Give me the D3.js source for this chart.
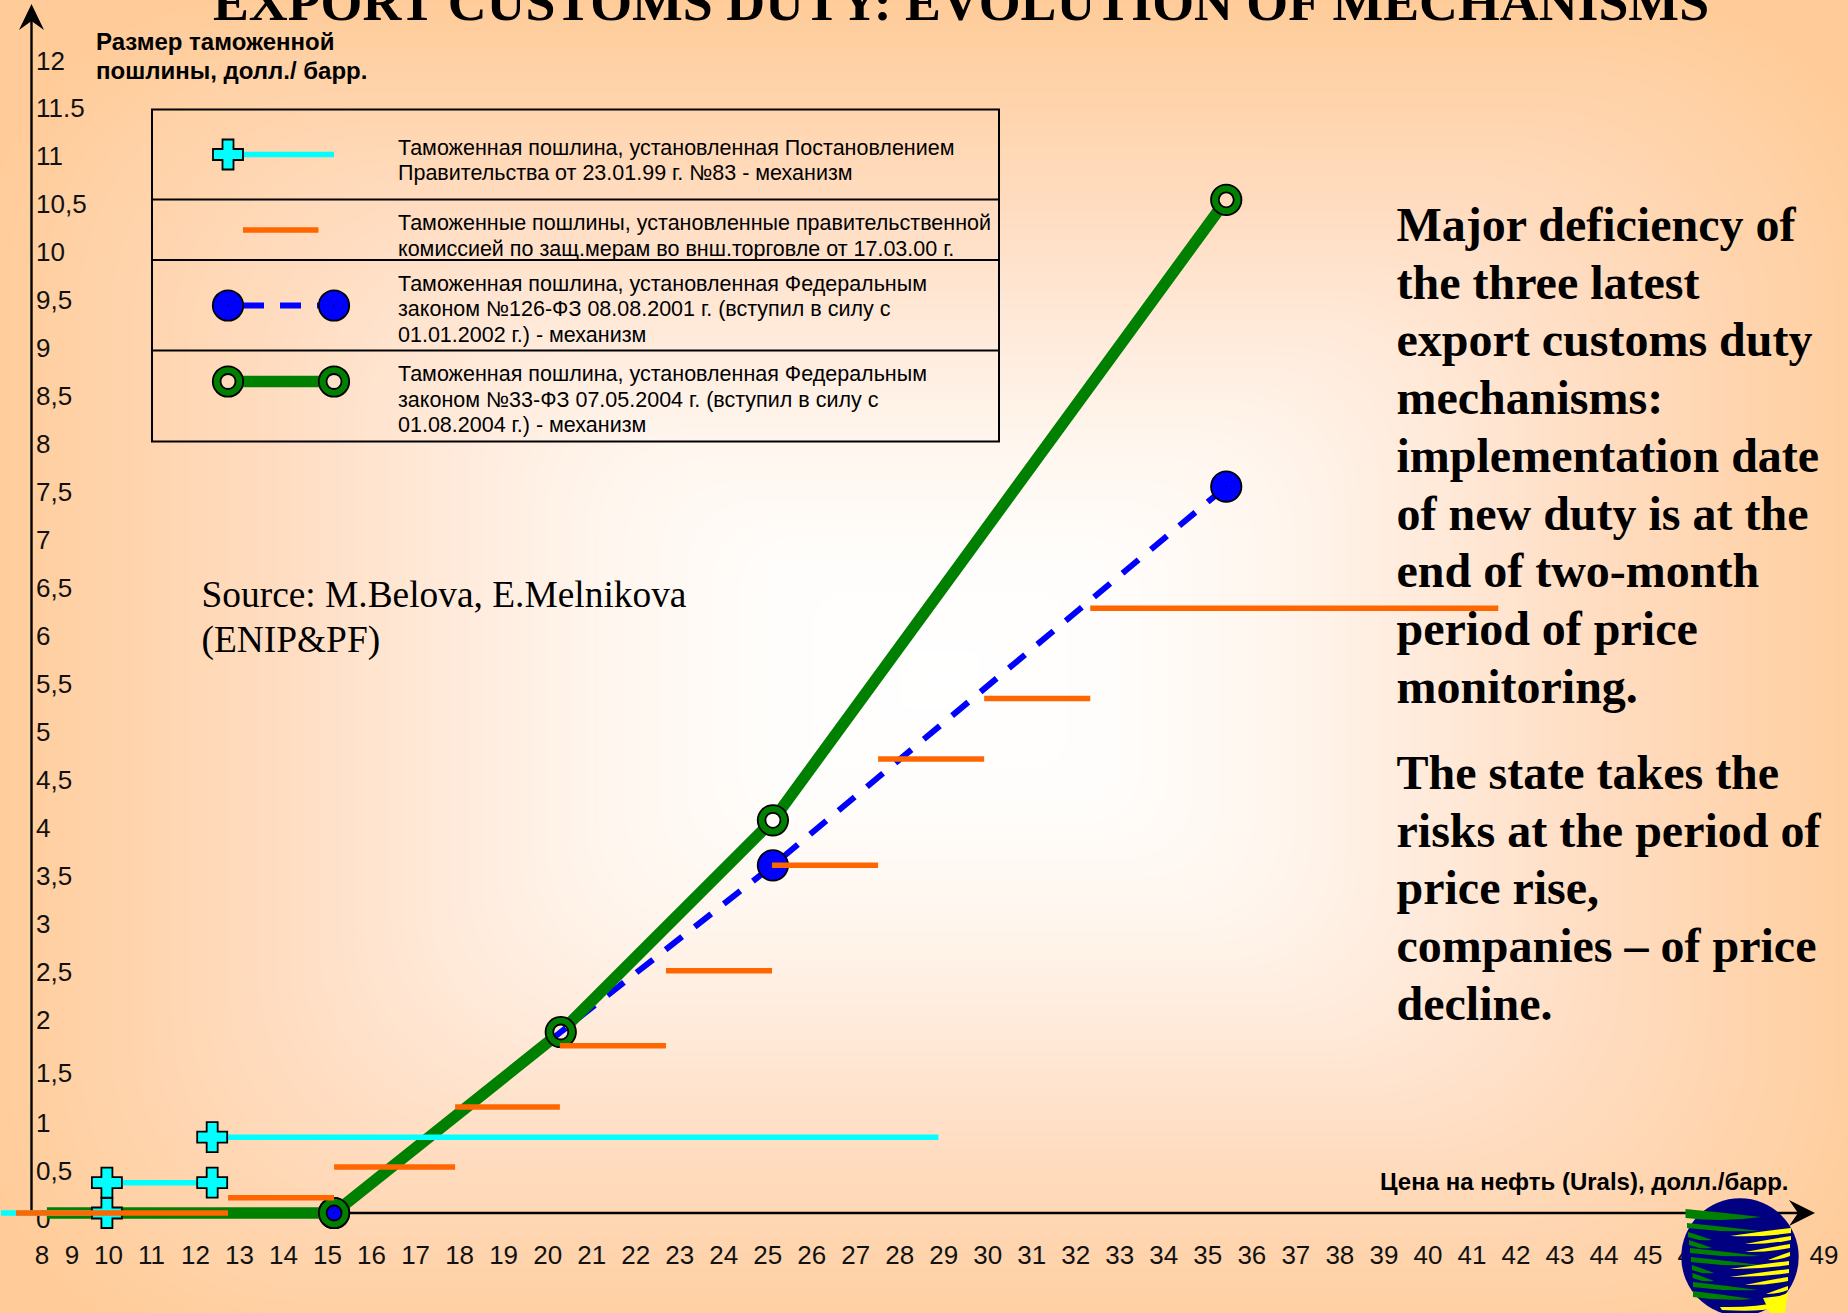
<!DOCTYPE html>
<html><head><meta charset="utf-8">
<script src="https://cdn.jsdelivr.net/npm/d3@7"></script>
<style>html,body{margin:0;padding:0;background:#FFCC99;overflow:hidden}svg{display:block}</style>
</head><body><svg id="chart" width="1848" height="1313"></svg>
<script>
// Oil price (USD/bbl) tick labels and duty (USD/bbl) tick labels
const priceTicks = d3.range(8, 50);
const dutyTicks = [0,0.5,1,1.5,2,2.5,3,3.5,4,4.5,5,5.5,6,6.5,7,7.5,8,8.5,9,9.5,10,10.5,11,11.5,12];
const dutyLabels = ["0","0,5","1","1,5","2","2,5","3","3,5","4","4,5","5","5,5","6","6,5","7","7,5","8","8,5","9","9,5","10","10,5","11","11.5","12"];

// Government decree No. 83: flat steps
const decreeSteps = [
  {from: 6.65, to: 9.97, duty: 0},
  {from: 9.97, to: 12.39, duty: 0.316},
  {from: 12.39, to: 28.89, duty: 0.79}
];
const decreeMarkers = [[9.97,0],[9.97,0.316],[12.39,0.316],[12.39,0.79]];

// Commission duties of 17.03.00: flat steps
const commissionSteps = [
  {from: 7.15, to: 12.75, duty: 0},
  {from: 12.75, to: 15.16, duty: 0.16},
  {from: 15.16, to: 17.91, duty: 0.48},
  {from: 17.91, to: 20.29, duty: 1.10},
  {from: 20.29, to: 22.70, duty: 1.70},
  {from: 22.70, to: 25.11, duty: 2.45},
  {from: 25.11, to: 27.52, duty: 3.55},
  {from: 27.52, to: 29.93, duty: 4.66},
  {from: 29.93, to: 32.34, duty: 5.29},
  {from: 32.34, to: 41.61, duty: 6.23}
];

// Law 126-FZ: dashed mechanism
const law126Line = [[15.16,0],[20.31,1.83],[25.13,3.55],[35.43,7.50]];
const law126Markers = [[15.16,0],[25.13,3.55],[35.43,7.50]];

// Law 33-FZ: solid mechanism
const law33Line = [[8.18,0],[15.16,0],[20.31,1.83],[25.13,4.02],[35.43,10.49]];
const law33Markers = [[15.16,0],[20.31,1.83],[25.13,4.02],[35.43,10.49]];

const legendRows = [
  ["Таможенная пошлина, установленная Постановлением","Правительства от 23.01.99 г. №83 - механизм"],
  ["Таможенные пошлины, установленные правительственной","комиссией по защ.мерам во внш.торговле от 17.03.00 г."],
  ["Таможенная пошлина, установленная Федеральным","законом №126-ФЗ 08.08.2001 г. (вступил в силу с","01.01.2002 г.) - механизм"],
  ["Таможенная пошлина, установленная Федеральным","законом №33-ФЗ 07.05.2004 г. (вступил в силу с","01.08.2004 г.) - механизм"]
];
const sideParagraphs = [
  ["Major deficiency of","the three latest","export customs duty","mechanisms:","implementation date","of new duty is at the","end of two-month","period of price","monitoring."],
  ["The state takes the","risks at the period of","price rise,","companies – of price","decline."]
];

const sans = "'Liberation Sans', Arial, sans-serif";
const serif = "'Liberation Serif', 'Times New Roman', serif";
const svg = d3.select("#chart");
const defs = svg.append("defs");

// Tick labels sit unevenly at the low end of both axes, hence piecewise scales
const x = d3.scaleLinear().domain([8,9,10,11,49]).range([41.5,71.5,108,151,1823.5]);
const y = d3.scaleLinear().domain([0,0.5,1,1.5,2,12]).range([1213,1165,1117,1067,1014,55]);

// Background: soft glow from the centre outwards, built from nested rounded rectangles
const glowColor = d3.scaleLinear().domain([0,0.18,0.35,0.5,0.7,1])
  .range(["#FFFFFF","#FFFDFB","#FFF6EE","#FFEBDC","#FFDCC0","#FFCC99"]);
const glowCentre = {x: 940, y: 680}, glowHalf = {w: 960, h: 680};
svg.append("rect").attr("width",1848).attr("height",1313).attr("fill","#FFCC99");
svg.append("g").selectAll("rect").data(d3.range(1,0,-1/220)).join("rect")
  .attr("x",t => glowCentre.x - glowHalf.w*t).attr("y",t => glowCentre.y - glowHalf.h*t)
  .attr("width",t => 2*glowHalf.w*t).attr("height",t => 2*glowHalf.h*t)
  .attr("rx",t => 260*t).attr("fill",t => glowColor(t));

// Title, running off the top edge
svg.append("text").attr("x",961).attr("y",20).attr("text-anchor","middle")
  .attr("font-family",serif).attr("font-weight","bold").attr("font-size",53.8)
  .attr("fill","#000").text("EXPORT CUSTOMS DUTY: EVOLUTION OF MECHANISMS");

// Axes
const xAxis = d3.axisBottom(x).tickValues(priceTicks).tickSize(0).tickPadding(0).tickFormat(d3.format("d"));
const gx = svg.append("g").attr("transform","translate(0,1245)").call(xAxis);
gx.select(".domain").remove();
gx.selectAll("text").attr("dy",0).attr("y",19).attr("font-family",sans).attr("font-size",26).attr("fill","#111");

const yAxis = d3.axisLeft(y).tickValues(dutyTicks).tickSize(0).tickFormat((d,i) => dutyLabels[i]);
const gy = svg.append("g").attr("transform","translate(36,0)").call(yAxis);
gy.select(".domain").remove();
gy.selectAll("text").attr("x",0).attr("dy",0).attr("y",14).attr("text-anchor","start")
  .attr("font-family",sans).attr("font-size",26).attr("fill","#111");

const axisLines = svg.append("g").attr("stroke","#000").attr("stroke-width",2.4);
axisLines.append("line").attr("x1",31.5).attr("x2",31.5).attr("y1",y(0)).attr("y2",18);
axisLines.append("line").attr("x1",31.5).attr("x2",1800).attr("y1",y(0)).attr("y2",y(0));
svg.append("path").attr("d","M31.5 4L19 30L31.5 21L44 30Z").attr("fill","#000");
svg.append("path").attr("d","M1815 1213L1789 1200L1798 1213L1789 1226Z").attr("fill","#000");

const boldLabel = (t,px,py,size) => svg.append("text").attr("x",px).attr("y",py)
  .attr("font-family",sans).attr("font-weight","bold").attr("font-size",size).attr("fill","#000").text(t);
boldLabel("Размер таможенной",96,50,24);
boldLabel("пошлины, долл./ барр.",96,79,24);
boldLabel("Цена на нефть (Urals), долл./барр.",1380,1190,24);

// Marker shapes
const armLong = 15, armShort = 5.5;
const cross = `M${-armShort} ${-armLong}H${armShort}V${-armShort}H${armLong}V${armShort}H${armShort}V${armLong}H${-armShort}V${armShort}H${-armLong}V${-armShort}H${-armShort}Z`;
const ring = d3.arc().innerRadius(7.5).outerRadius(15.2).startAngle(0).endAngle(2*Math.PI)();
const drawCross = (g,px,py) => g.append("path").attr("d",cross).attr("transform",`translate(${px},${py})`)
  .attr("fill","#00FFFF").attr("stroke","#000").attr("stroke-width",1.8);
const drawDisc = (g,px,py) => {
  g.append("circle").attr("cx",px).attr("cy",py).attr("r",15.2).attr("fill","#0000FF").attr("stroke","#000").attr("stroke-width",1.8);
  g.append("circle").attr("cx",px).attr("cy",py).attr("r",0.7).attr("fill","#000");
};
const drawRing = (g,px,py) => g.append("path").attr("d",ring).attr("transform",`translate(${px},${py})`)
  .attr("fill","#008000").attr("stroke","#000").attr("stroke-width",1.8);

// Legend box
const legend = svg.append("g");
legend.append("rect").attr("x",152).attr("y",109.5).attr("width",847).attr("height",332)
  .attr("fill","none").attr("stroke","#000").attr("stroke-width",2);
[199.5,260,350.5].forEach(v => legend.append("line").attr("x1",152).attr("x2",999).attr("y1",v).attr("y2",v)
  .attr("stroke","#000").attr("stroke-width",2));
const legendBaselines = [[155,180],[230,255.5],[290.5,316,341.5],[381,406.5,432]];
legendRows.forEach((row,i) => row.forEach((t,j) => legend.append("text").attr("x",398).attr("y",legendBaselines[i][j])
  .attr("font-family",sans).attr("font-size",21.5).attr("fill","#000").text(t)));
legend.append("line").attr("x1",228).attr("x2",334).attr("y1",154.5).attr("y2",154.5).attr("stroke","#00FFFF").attr("stroke-width",5.5);
drawCross(legend,228,154.5);
legend.append("line").attr("x1",243).attr("x2",318.5).attr("y1",230).attr("y2",230).attr("stroke","#FF6600").attr("stroke-width",5.5);
legend.append("line").attr("x1",243).attr("x2",318).attr("y1",305.5).attr("y2",305.5).attr("stroke","#0000FF").attr("stroke-width",6).attr("stroke-dasharray","21 16");
drawDisc(legend,228,305.5); drawDisc(legend,334,305.5);
legend.append("line").attr("x1",243).attr("x2",319).attr("y1",381.5).attr("y2",381.5).attr("stroke","#008000").attr("stroke-width",11.5);
drawRing(legend,228,381.5); drawRing(legend,334,381.5);

// Hollow ring centres must stay clear of the thick line running through them
const holes = defs.append("mask").attr("id","ringHoles").attr("maskUnits","userSpaceOnUse")
  .attr("x",0).attr("y",0).attr("width",1848).attr("height",1313);
holes.append("rect").attr("width",1848).attr("height",1313).attr("fill","#fff");
holes.selectAll("circle").data(law33Markers).join("circle")
  .attr("cx",d=>x(d[0])).attr("cy",d=>y(d[1])).attr("r",8).attr("fill","#000");

const line = d3.line().x(d=>x(d[0])).y(d=>y(d[1]));
const marks = svg.append("g");

// Law 126-FZ under Law 33-FZ
marks.append("path").attr("d",line(law126Line)).attr("fill","none").attr("stroke","#0000FF")
  .attr("stroke-width",6).attr("stroke-dasharray","21 16").attr("stroke-dashoffset",20.6);
law126Markers.forEach(d => drawDisc(marks,x(d[0]),y(d[1])));
marks.append("path").attr("d",line(law33Line)).attr("fill","none").attr("stroke","#008000")
  .attr("stroke-width",11.5).attr("mask","url(#ringHoles)");
law33Markers.forEach(d => drawRing(marks,x(d[0]),y(d[1])));

// Decree 83 steps and crosses
marks.selectAll(".decree").data(decreeSteps).join("line").attr("class","decree")
  .attr("x1",d=>x(d.from)).attr("x2",d=>x(d.to)).attr("y1",d=>y(d.duty)).attr("y2",d=>y(d.duty))
  .attr("stroke","#00FFFF").attr("stroke-width",5.5);
decreeMarkers.forEach(d => drawCross(marks,x(d[0]),y(d[1])));

// Commission steps on top
marks.selectAll(".commission").data(commissionSteps).join("line").attr("class","commission")
  .attr("x1",d=>x(d.from)).attr("x2",d=>x(d.to)).attr("y1",d=>y(d.duty)).attr("y2",d=>y(d.duty))
  .attr("stroke","#FF6600").attr("stroke-width",5.5);

// Source note
[["Source: M.Belova, E.Melnikova",607],["(ENIP&PF)",652]].forEach(([t,py]) =>
  svg.append("text").attr("x",201.5).attr("y",py).attr("font-family",serif).attr("font-size",37.4).attr("fill","#000").text(t));

// Commentary column
const sideTop = [241, 789];
sideParagraphs.forEach((para,i) => para.forEach((t,j) =>
  svg.append("text").attr("x",1396.5).attr("y",sideTop[i]+j*57.7)
    .attr("font-family",serif).attr("font-weight","bold").attr("font-size",48).attr("fill","#000").text(t)));

// Emblem: navy globe wound with tapering green bands from the left and yellow from the right
const emblem = svg.append("g");
emblem.append("circle").attr("cx",1740).attr("cy",1257).attr("r",58.7).attr("fill","#000080");
const greenBands = [[1685.5,1209,1761,9],[1687,1223,1760,5],[1688,1232,1712,5],[1689,1240,1712,5],[1690,1248,1760,5],
                    [1691,1257,1760,5],[1692,1265,1714,5],[1692.5,1273,1714,5],[1693,1282,1758,5],[1693,1291,1752,6]];
const yellowBands = [[1791,1228,1730,5],[1791,1236,1745,4],[1790,1244,1745,4],[1790,1252,1768,4],
                     [1789,1261,1730,4],[1789,1269,1730,4],[1788,1277,1745,4],[1788,1286,1766,4],[1788,1293,1766,4]];
const band = (x0,y0,x1,thick,drop) => `M${x0} ${y0}Q${(x0+x1)/2} ${y0+drop*0.45} ${x1} ${y0+drop}Q${(x0+x1)/2} ${y0+drop*0.55+thick} ${x0} ${y0+thick}Z`;
emblem.selectAll(".green").data(greenBands).join("path").attr("class","green")
  .attr("d",d => band(d[0],d[1],d[2],d[3],8)).attr("fill","#008000");
emblem.selectAll(".yellow").data(yellowBands).join("path").attr("class","yellow")
  .attr("d",d => band(d[0],d[1],d[2],d[3],8)).attr("fill","#FFFF00");
emblem.append("path").attr("d","M1763 1298L1787 1295L1785 1313L1770 1313Z").attr("fill","#FFFF00");
emblem.append("path").attr("d","M1788 1300Q1760 1308 1720 1307L1722 1310Q1760 1312 1775 1308Z").attr("fill","#FFFF00");
</script></body></html>
